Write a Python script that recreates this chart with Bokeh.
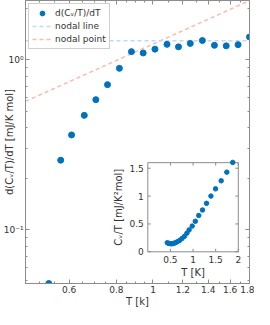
import numpy as np
from bokeh.plotting import figure
from bokeh.models import (Range1d, LogAxis, FixedTicker, LinearScale, Legend,
                          NumeralTickFormatter)
from bokeh.core.properties import value
from bokeh.embed import file_html
from bokeh.resources import INLINE

# ---------------- data ----------------
T = [0.530, 0.570, 0.609, 0.658, 0.706, 0.758, 0.815, 0.877, 0.942, 1.012,
     1.089, 1.168, 1.255, 1.351, 1.454, 1.562, 1.679, 1.800]
dCdT = [0.0483, 0.257, 0.362, 0.472, 0.584, 0.716, 0.893, 1.12, 1.10, 1.158,
        1.236, 1.195, 1.252, 1.302, 1.22, 1.211, 1.231, 1.366]

nodal_line_T = [0.46, 1.80]
nodal_line_y = [1.30, 1.30]
nodal_point_T = [0.46, 1.80]
nodal_point_y = [0.571, 2.234]

x_ticks = [0.6, 0.8, 1.0, 1.2, 1.4, 1.6, 1.8]
x_minor = [0.5, 0.55, 0.65, 0.7, 0.75, 0.85, 0.9, 0.95, 1.1, 1.3, 1.5, 1.7]
y_ticks = [0.1, 1.0]
y_tick_labels = {0.1: "10\u207b\u00b9", 1.0: "10\u2070"}
y_minor = [0.05, 0.06, 0.07, 0.08, 0.09, 0.2, 0.3, 0.4, 0.5, 0.6, 0.7, 0.8, 0.9, 2.0]

inset_T = [0.43, 0.465, 0.50, 0.534, 0.568, 0.61, 0.651, 0.70, 0.754, 0.81, 0.864,
           0.913, 0.981, 1.05, 1.126, 1.209, 1.298, 1.395, 1.498, 1.622, 1.746, 1.877]
inset_C = [0.163, 0.151, 0.145, 0.145, 0.151, 0.163, 0.18, 0.202, 0.237, 0.277, 0.335,
           0.393, 0.462, 0.548, 0.652, 0.75, 0.87, 1.00, 1.13, 1.275, 1.43, 1.604]
inset_x_ticks = [0.5, 1.0, 1.5, 2.0]
inset_x_labels = ["0.5", "1", "1.5", "2"]
inset_y_ticks = [0.0, 0.5, 1.0, 1.5]
inset_y_labels = ["0", "0.5", "1", "1.5"]
inset_xlim = (0.0, 2.0)
inset_ylim = (0.0, 1.6)

# ---------------- styles ----------------
FONT = "DejaVu Sans"
AX = "#8c8c8c"
TXT = "#333333"
BLUE = "#0072BD"

p = figure(width=254, height=309, x_axis_type="log", y_axis_type="log",
           x_range=Range1d(0.46, 1.80), y_range=Range1d(0.0483, 2.24),
           output_backend="svg", toolbar_location=None)
p.min_border = 0
p.min_border_left = 20
p.min_border_right = 5
p.min_border_bottom = 25
p.xgrid.visible = False
p.ygrid.visible = False
p.outline_line_color = AX
p.background_fill_color = "white"

bx = p.below[0]
ly = p.left[0]
top_ax = LogAxis()
right_ax = LogAxis()
p.add_layout(top_ax, "above")
p.add_layout(right_ax, "right")

xt = FixedTicker(ticks=x_ticks, minor_ticks=x_minor)
yt = FixedTicker(ticks=y_ticks, minor_ticks=y_minor)
bx.ticker = xt
top_ax.ticker = xt
ly.ticker = yt
right_ax.ticker = yt

for ax in [bx, ly, top_ax, right_ax]:
    ax.axis_line_color = AX
    ax.major_tick_line_color = AX
    ax.minor_tick_line_color = AX
    ax.major_tick_in = 4
    ax.major_tick_out = 0
    ax.minor_tick_in = 2
    ax.minor_tick_out = 0
    ax.major_label_text_font = FONT
    ax.major_label_text_font_size = "9px"
    ax.major_label_text_color = TXT
    ax.axis_label_text_font = FONT
    ax.axis_label_text_font_size = "10px"
    ax.axis_label_text_font_style = "normal"
    ax.axis_label_text_color = TXT

top_ax.major_label_overrides = {t: "" for t in x_ticks}
right_ax.major_label_overrides = {t: "" for t in y_ticks}
for ax in [top_ax, right_ax]:
    ax.major_label_standoff = 0

bx.formatter = NumeralTickFormatter(format="0.[0]")
bx.axis_label = "T [k]"
bx.major_label_standoff = 2
bx.axis_label_standoff = 0

ly.major_label_overrides = y_tick_labels
ly.axis_label = "d(C\u1d65/T)/dT [mJ/K mol]"
ly.major_label_standoff = 2
ly.axis_label_standoff = -14

# main data
r_np = p.line(nodal_point_T, nodal_point_y, line_color="#f9bcad", line_width=1.5,
              line_dash="4 3")
r_nl = p.line(nodal_line_T, nodal_line_y, line_color="#c3d8f2", line_width=1.5,
              line_dash="4 3")
r_pts = p.scatter(T, dCdT, size=6, color=BLUE)

legend = Legend(items=[("d(C\u1d65/T)/dT", [r_pts]), ("nodal line", [r_nl]),
                       ("nodal point", [r_np])],
                location="top_left")
legend.margin = 3
legend.padding = 3
legend.spacing = 1
legend.glyph_height = 12
legend.glyph_width = 20
legend.label_height = 12
legend.label_standoff = 3
legend.label_text_font = FONT
legend.label_text_font_size = "9px"
legend.label_text_color = TXT
legend.border_line_color = "#a0a0a0"
legend.background_fill_alpha = 1.0
p.add_layout(legend)

# ---------------- inset (drawn on linear extra ranges) ----------------
fx0, fx1 = 0.546, 0.950   # inset box as fractions of the main frame
fy0, fy1 = 0.112, 0.427
W = (inset_xlim[1] - inset_xlim[0]) / (fx1 - fx0)
H = (inset_ylim[1] - inset_ylim[0]) / (fy1 - fy0)
p.extra_x_ranges = {"ix": Range1d(inset_xlim[0] - fx0 * W, inset_xlim[0] + (1 - fx0) * W)}
p.extra_y_ranges = {"iy": Range1d(inset_ylim[0] - fy0 * H, inset_ylim[0] + (1 - fy0) * H)}
p.extra_x_scales = {"ix": LinearScale()}
p.extra_y_scales = {"iy": LinearScale()}
kw = dict(x_range_name="ix", y_range_name="iy")

p.quad(left=[inset_xlim[0]], right=[inset_xlim[1]], bottom=[inset_ylim[0]],
       top=[inset_ylim[1]], fill_color="white", line_color=AX, line_width=1, **kw)

n = len(inset_x_ticks)
m = len(inset_y_ticks)
p.ray(x=inset_x_ticks, y=[inset_ylim[0]] * n, length=3, length_units="screen",
      angle=np.pi / 2, line_color=AX, **kw)
p.ray(x=inset_x_ticks, y=[inset_ylim[1]] * n, length=3, length_units="screen",
      angle=-np.pi / 2, line_color=AX, **kw)
p.ray(x=[inset_xlim[0]] * m, y=inset_y_ticks, length=3, length_units="screen",
      angle=0, line_color=AX, **kw)
p.ray(x=[inset_xlim[1]] * m, y=inset_y_ticks, length=3, length_units="screen",
      angle=np.pi, line_color=AX, **kw)

p.scatter(inset_T, inset_C, size=4.5, color=BLUE, **kw)

p.text(x=inset_x_ticks, y=[inset_ylim[0]] * n, text=inset_x_labels, y_offset=4,
       text_align="center", text_baseline="top", text_font=value(FONT),
       text_font_size=value("9px"), text_color=TXT, **kw)
p.text(x=[inset_xlim[0]] * m, y=inset_y_ticks, text=inset_y_labels, x_offset=-4,
       text_align="right", text_baseline="middle", text_font=value(FONT),
       text_font_size=value("9px"), text_color=TXT, **kw)
p.text(x=[(inset_xlim[0] + inset_xlim[1]) / 2], y=[inset_ylim[0]], text=["T [K]"],
       y_offset=15, text_align="center", text_baseline="top", text_font=value(FONT),
       text_font_size=value("10px"), text_color=TXT, **kw)
p.text(x=[inset_xlim[0]], y=[(inset_ylim[0] + inset_ylim[1]) / 2],
       text=["C\u1d65/T [mJ/K\u00b2mol]"], x_offset=-29, angle=np.pi / 2,
       text_align="center", text_baseline="middle", text_font=value(FONT),
       text_font_size=value("10px"), text_color=TXT, **kw)

open("out.html", "w").write(file_html(p, INLINE))
